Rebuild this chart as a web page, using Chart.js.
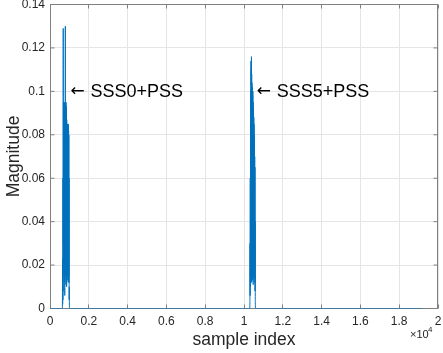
<!DOCTYPE html>
<html>
<head>
<meta charset="utf-8">
<script src="https://cdn.jsdelivr.net/npm/chart.js@4"></script>
<style>
  html, body { margin: 0; padding: 0; background: #fff; }
  canvas { display: block; }
</style>
</head>
<body>
<canvas id="chart" width="443" height="353"></canvas>
<script>
// ── Data ───────────────────────────────────────────────
const totalSamples = 19200;
const sampleStep = 6;

// first burst (SSS0 + PSS), magnitude every 6 samples from burst1Start
const burst1Start = 640;
const burst1Values = [
  0, 0.023, 0.002, 0.010, 0.004, 0.060, 0.008, 0.129, 0.030, 0.095,
  0.022, 0.092, 0.016, 0.094, 0.020, 0.088, 0.012, 0.095, 0.024, 0.090,
  0.006, 0.093, 0.017, 0.089, 0.021, 0.130, 0.015, 0.094, 0.019, 0.091,
  0.011, 0.095, 0.023, 0.090, 0.014, 0.093, 0.010, 0.087, 0.018, 0.085,
  0.022, 0.084, 0.013, 0.083, 0.020, 0.085, 0.016, 0.084, 0.021, 0.083,
  0.012, 0.085, 0.020, 0.082, 0.015, 0.080, 0.012, 0.060, 0.004, 0.010,
  0
];

// second burst (SSS5 + PSS)
const burst2Start = 10300;
const burst2Values = [
  0, 0.004, 0.030, 0.006, 0.060, 0.010, 0.085, 0.020, 0.100, 0.015,
  0.114, 0.025, 0.110, 0.018, 0.116, 0.012, 0.108, 0.016, 0.104, 0.024,
  0.102, 0.019, 0.100, 0.013, 0.098, 0.017, 0.100, 0.023, 0.095, 0.011,
  0.092, 0.025, 0.090, 0.018, 0.088, 0.014, 0.085, 0.016, 0.080, 0.024,
  0.076, 0.020, 0.070, 0.012, 0.065, 0.008, 0.040, 0.004, 0
];

const xTicks = [0, 2000, 4000, 6000, 8000, 10000, 12000, 14000, 16000, 18000, 20000];
const yTicks = [0, 0.02, 0.04, 0.06, 0.08, 0.1, 0.12, 0.14];

const notes = [
  { label: 'SSS0+PSS', x: 1060, y: 0.0998 },
  { label: 'SSS5+PSS', x: 10660, y: 0.0998 },
];

// ── Build series ───────────────────────────────────────
function burstPoints(start, values) {
  return values.map((v, i) => ({ x: start + i * sampleStep, y: v }));
}

const points = [
  { x: 0, y: 0 },
  ...burstPoints(burst1Start, burst1Values),
  ...burstPoints(burst2Start, burst2Values),
  { x: totalSamples, y: 0 },
];

const FONT = '"Liberation Sans", Arial, Helvetica, sans-serif';
const TEXT = '#262626';
const AXIS = '#808080';

// ── Plugins ────────────────────────────────────────────
// box + inward ticks, like a MATLAB axes
const axesBox = {
  id: 'axesBox',
  beforeDatasetsDraw(chart) {
    const { ctx, chartArea: a, scales: { x, y } } = chart;
    const len = 4;
    const l = Math.floor(a.left) + 0.5, r = Math.floor(a.right) - 0.5;
    ctx.save();
    ctx.strokeStyle = AXIS;
    ctx.lineWidth = 1;
    ctx.strokeRect(l, a.top, r - l, a.bottom - a.top);
    ctx.beginPath();
    xTicks.forEach(v => {
      const px = Math.floor(x.getPixelForValue(v)) + 0.5;
      ctx.moveTo(px, a.bottom); ctx.lineTo(px, a.bottom - len);
      ctx.moveTo(px, a.top); ctx.lineTo(px, a.top + len);
    });
    yTicks.forEach(v => {
      const py = y.getPixelForValue(v);
      ctx.moveTo(l, py); ctx.lineTo(l + len, py);
      ctx.moveTo(r, py); ctx.lineTo(r - len, py);
    });
    ctx.stroke();
    ctx.restore();
  },
  afterDraw(chart) {
    const { ctx, scales: { x, y } } = chart;
    ctx.save();
    // exponent label
    ctx.fillStyle = TEXT;
    ctx.textBaseline = 'middle';
    ctx.textAlign = 'left';
    ctx.font = '11px ' + FONT;
    ctx.fillText('\u00d710', 410, 335);
    ctx.font = '8px ' + FONT;
    ctx.fillText('4', 428, 330);
    // annotations: long arrow then label
    ctx.fillStyle = '#000';
    notes.forEach(n => {
      const px = x.getPixelForValue(n.x), py = y.getPixelForValue(n.y);
      ctx.font = '17px "DejaVu Sans", sans-serif';
      ctx.fillText('\u2190', px, py);
      ctx.font = '18px ' + FONT;
      ctx.fillText(n.label, px + 20, py);
    });
    ctx.restore();
  },
};

// ── Chart ──────────────────────────────────────────────
new Chart(document.getElementById('chart'), {
  type: 'line',
  data: {
    datasets: [{
      data: points,
      borderColor: '#0072bd',
      borderWidth: 1,
      pointRadius: 0,
      tension: 0.0001,
      fill: false,
    }],
  },
  options: {
    responsive: false,
    animation: false,
    events: [],
    layout: { padding: { left: 0, right: 5, top: 4.5, bottom: 0 } },
    plugins: { legend: { display: false }, tooltip: { enabled: false } },
    scales: {
      x: {
        type: 'linear',
        min: 0,
        max: 20000,
        afterBuildTicks: s => { s.ticks = xTicks.map(v => ({ value: v })); },
        afterFit: s => { s.height = 44.5; s.paddingLeft = 0; s.paddingRight = 0; },
        ticks: {
          color: TEXT,
          font: { family: FONT, size: 12 },
          padding: 6,
          maxRotation: 0,
          callback: v => String(Number((v / 10000).toFixed(1))),
        },
        grid: { color: '#e5e5e5', drawTicks: false },
        border: { display: false },
        title: {
          display: true,
          text: 'sample index',
          color: TEXT,
          font: { family: FONT, size: 17.5 },
          padding: { top: 0, bottom: 2 },
        },
      },
      y: {
        min: 0,
        max: 0.14,
        afterBuildTicks: s => { s.ticks = yTicks.map(v => ({ value: v })); },
        afterFit: s => { s.width = 50; s.paddingTop = 0; s.paddingBottom = 0; },
        ticks: {
          color: TEXT,
          font: { family: FONT, size: 12 },
          padding: 5,
          callback: v => String(Number(v.toFixed(2))),
        },
        grid: { color: '#e5e5e5', drawTicks: false },
        border: { display: false },
        title: {
          display: true,
          text: 'Magnitude',
          color: TEXT,
          font: { family: FONT, size: 17.5 },
          padding: { top: 4, bottom: 0 },
        },
      },
    },
  },
  plugins: [axesBox],
});
</script>
</body>
</html>
